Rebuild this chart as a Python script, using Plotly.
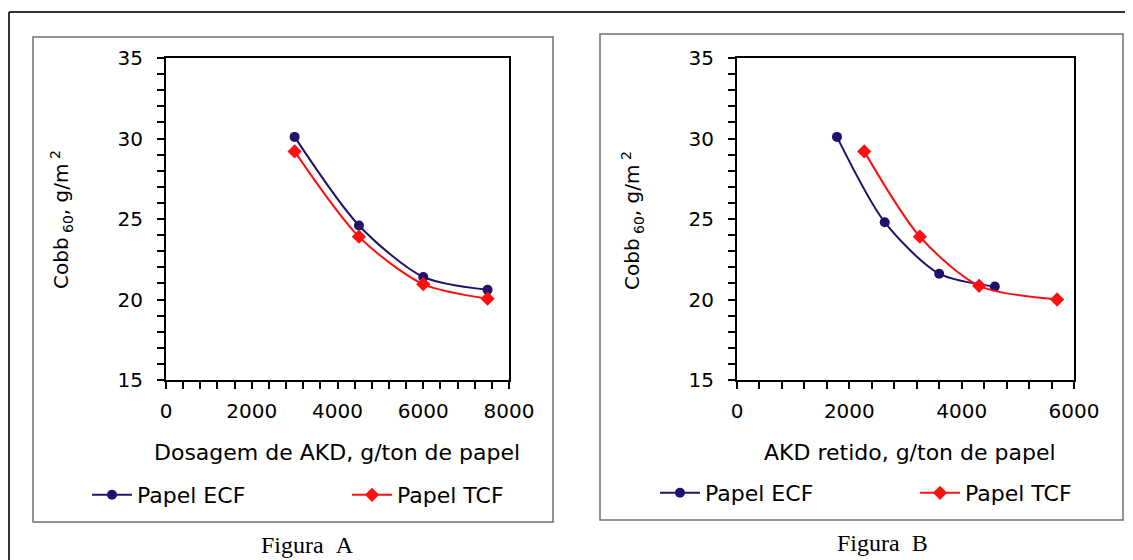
import plotly.graph_objects as go

# ---- data ----
dose_ecf = [3000, 4500, 6000, 7500]
cobb_ecf_a = [30.1, 24.6, 21.4, 20.6]
dose_tcf = [3000, 4500, 6000, 7500]
cobb_tcf_a = [29.2, 23.9, 20.95, 20.05]

ret_ecf = [1780, 2630, 3600, 4590]
cobb_ecf_b = [30.1, 24.8, 21.6, 20.8]
ret_tcf = [2265, 3256, 4311, 5699]
cobb_tcf_b = [29.2, 23.9, 20.85, 20.0]

series_names = ["Papel ECF", "Papel TCF"]
x_titles = ["Dosagem de AKD, g/ton de papel", "AKD retido, g/ton de papel"]
y_title = "Cobb<sub> 60</sub>, g/m<sup> 2</sup>"
panel_labels = ["Figura\u00a0\u00a0A", "Figura\u00a0\u00a0B"]

# page has an 8px body margin; figure fills the rest of the 1133x560 window
OX, OY = 8, 8
W, H = 1133 - OX, 560 - OY
ECF_COLOR = "#22106c"
TCF_COLOR = "#ff1010"
FONT = "DejaVu Sans"


def px(x):
    return (x - OX) / W


def py(y):
    return 1 - (y - OY) / H


fig = go.Figure()

# left panel
fig.add_trace(go.Scatter(x=dose_ecf, y=cobb_ecf_a, name=series_names[0], mode="lines+markers",
                         line=dict(color=ECF_COLOR, width=2, shape="spline", smoothing=0.8),
                         marker=dict(symbol="circle", size=10, color=ECF_COLOR),
                         xaxis="x", yaxis="y", legend="legend"))
fig.add_trace(go.Scatter(x=dose_tcf, y=cobb_tcf_a, name=series_names[1], mode="lines+markers",
                         line=dict(color=TCF_COLOR, width=2, shape="spline", smoothing=0.8),
                         marker=dict(symbol="diamond", size=11, color=TCF_COLOR),
                         xaxis="x", yaxis="y", legend="legend"))
# right panel
fig.add_trace(go.Scatter(x=ret_ecf, y=cobb_ecf_b, name=series_names[0], mode="lines+markers",
                         line=dict(color=ECF_COLOR, width=2, shape="spline", smoothing=0.8),
                         marker=dict(symbol="circle", size=10, color=ECF_COLOR),
                         xaxis="x2", yaxis="y2", legend="legend2"))
fig.add_trace(go.Scatter(x=ret_tcf, y=cobb_tcf_b, name=series_names[1], mode="lines+markers",
                         line=dict(color=TCF_COLOR, width=2, shape="spline", smoothing=0.8),
                         marker=dict(symbol="diamond", size=11, color=TCF_COLOR),
                         xaxis="x2", yaxis="y2", legend="legend2"))

axis_common = dict(
    showline=True, linecolor="black", linewidth=2, mirror=True,
    ticks="outside", ticklen=7, tickwidth=1.5, tickcolor="black",
    showgrid=False, zeroline=False, automargin=False,
    tickfont=dict(family=FONT, size=20, color="black"),
)

xa = dict(axis_common, range=[0, 8000], dtick=2000, tick0=0,
          minor=dict(dtick=400, tick0=0, ticks="outside", ticklen=7, tickcolor="black", showgrid=False),
          domain=[px(166), px(509)], anchor="y", ticklabelstandoff=5)
xb = dict(axis_common, range=[0, 6000], dtick=2000, tick0=0,
          minor=dict(dtick=400, tick0=0, ticks="outside", ticklen=7, tickcolor="black", showgrid=False),
          domain=[px(737), px(1074)], anchor="y2", ticklabelstandoff=5)
ya = dict(axis_common, range=[15, 35], dtick=5, tick0=15,
          minor=dict(dtick=1, tick0=15, ticks="outside", ticklen=7, tickcolor="black", showgrid=False),
          domain=[py(380), py(58)], anchor="x", ticklabelstandoff=10)
yb = dict(axis_common, range=[15, 35], dtick=5, tick0=15,
          minor=dict(dtick=1, tick0=15, ticks="outside", ticklen=7, tickcolor="black", showgrid=False),
          domain=[py(380), py(58)], anchor="x2", ticklabelstandoff=10)

legend_common = dict(orientation="h", font=dict(family=FONT, size=22, color="black"),
                     itemwidth=40, entrywidth=205, entrywidthmode="pixels",
                     bgcolor="rgba(0,0,0,0)", borderwidth=0, xanchor="left", yanchor="middle",
                     tracegroupgap=0)


def ann(text, x, y, size, family=FONT, angle=0):
    return dict(text=text, x=px(x), y=py(y), xref="paper", yref="paper", showarrow=False,
                xanchor="center", yanchor="middle", textangle=angle,
                font=dict(family=family, size=size, color="black"))


annotations = [
    ann(x_titles[0], 337, 452, 22),
    ann(x_titles[1], 910, 452, 22),
    ann(y_title, 62, 220, 20, angle=-90),
    ann(y_title, 632, 221, 20, angle=-90),
    ann(panel_labels[0], 307, 545, 24, family="Liberation Serif"),
    ann(panel_labels[1], 882, 543, 24, family="Liberation Serif"),
]

shapes = [
    # outer frame (left and top edges)
    dict(type="line", xref="paper", yref="paper", x0=px(9), x1=px(9), y0=0, y1=py(12),
         line=dict(color="#333333", width=2)),
    dict(type="line", xref="paper", yref="paper", x0=px(9), x1=1, y0=py(12), y1=py(12),
         line=dict(color="#333333", width=2)),
    # inner panel frames
    dict(type="rect", xref="paper", yref="paper", x0=px(33), x1=px(553), y0=py(522), y1=py(37),
         line=dict(color="#707070", width=1.5)),
    dict(type="rect", xref="paper", yref="paper", x0=px(600), x1=px(1123), y0=py(520), y1=py(34),
         line=dict(color="#707070", width=1.5)),
]

fig.update_layout(
    width=W, height=H,
    margin=dict(l=0, r=0, t=0, b=0, pad=0, autoexpand=False),
    paper_bgcolor="white", plot_bgcolor="white",
    xaxis=xa, yaxis=ya, xaxis2=xb, yaxis2=yb,
    legend=dict(legend_common, x=px(87), y=py(495)),
    legend2=dict(legend_common, x=px(655), y=py(493)),
    annotations=annotations,
    shapes=shapes,
    showlegend=True,
)

fig.write_html("out.html")
